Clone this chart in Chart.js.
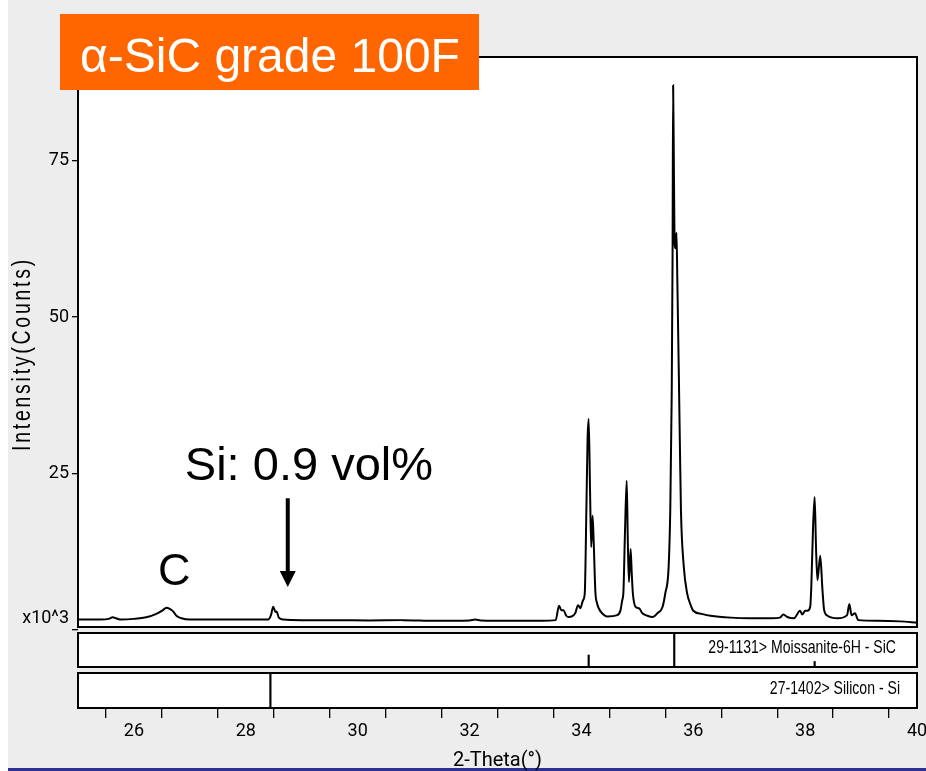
<!DOCTYPE html>
<html>
<head>
<meta charset="utf-8">
<script src="https://cdn.jsdelivr.net/npm/chart.js@4/dist/chart.umd.min.js"></script>
<style>
  html, body { margin: 0; padding: 0; background: #ffffff; }
  #wrap { width: 926px; height: 771px; }
</style>
</head>
<body>
<div id="wrap"><canvas id="c" width="926" height="771"></canvas></div>
<script>
// ---------- data ----------
// 2-Theta (degrees)
const twoTheta = [
  25.00, 25.40, 25.55, 25.62, 25.68, 25.75, 26.00, 26.22, 26.40, 26.52,
  26.58, 26.64, 26.70, 26.76, 26.85, 27.00, 27.50, 28.00, 28.40, 28.45,
  28.49, 28.53, 28.55, 28.59, 28.67, 29.00, 29.60, 30.20, 30.80, 31.40,
  32.00, 32.10, 32.20, 32.80, 33.30, 33.54, 33.60, 33.64, 33.68, 33.73,
  33.77, 33.89, 33.94, 33.98, 34.03, 34.06, 34.09, 34.11, 34.13, 34.155,
  34.175, 34.20, 34.22, 34.25, 34.28, 34.31, 34.37, 34.46, 34.64, 34.70,
  34.73, 34.75, 34.78, 34.81, 34.83, 34.85, 34.88, 34.90, 34.92, 34.97,
  35.03, 35.09, 35.18, 35.27, 35.36, 35.45, 35.50, 35.56, 35.59, 35.615,
  35.63, 35.64, 35.655, 35.668, 35.685, 35.70, 35.715, 35.74, 35.76, 35.78,
  35.83, 35.89, 35.95, 36.00, 36.15, 36.31, 36.67, 37.00, 37.40, 37.55,
  37.61, 37.68, 37.80, 37.91, 37.95, 38.00, 38.04, 38.09, 38.11, 38.14,
  38.17, 38.195, 38.22, 38.27, 38.31, 38.34, 38.40, 38.58, 38.75, 38.79,
  38.83, 38.89, 38.95, 39.30, 39.70, 40.00
];
// Intensity (x10^3 counts)
const intensity = [
  1.6, 1.6, 1.7, 1.95, 1.8, 1.6, 1.7, 1.95, 2.5, 3.1,
  3.5, 3.3, 2.9, 2.2, 1.8, 1.6, 1.6, 1.6, 1.6, 2.3,
  3.65, 2.8, 2.9, 1.9, 1.6, 1.5, 1.5, 1.45, 1.5, 1.4,
  1.45, 1.6, 1.45, 1.4, 1.4, 1.5, 3.8, 3.1, 3.1, 2.2,
  2.0, 2.6, 3.9, 3.4, 4.7, 5.8, 19.7, 30.4, 33.7, 22.0,
  13.2, 18.2, 14.0, 6.0, 4.2, 3.4, 2.6, 2.1, 2.3, 3.1,
  4.7, 5.8, 15.9, 23.8, 14.0, 7.6, 12.9, 9.0, 5.8, 3.6,
  3.4, 2.6, 2.2, 2.0, 2.6, 3.6, 5.8, 10.1, 19.7, 38.0,
  60.0, 87.1, 72.0, 61.5, 61.0, 63.5, 56.0, 42.0, 30.0, 19.0,
  10.1, 5.8, 4.0, 3.0, 2.5, 2.2, 1.9, 1.8, 1.8, 1.9,
  2.4, 2.0, 1.8, 3.0, 2.4, 3.0, 3.0, 3.6, 6.8, 15.9,
  21.2, 13.0, 7.9, 11.8, 6.3, 3.1, 2.2, 1.8, 2.3, 4.1,
  2.3, 2.6, 1.5, 1.4, 1.3, 1.1
];
const yTickValues = [0, 25, 50, 75];
const xTickValues = [25, 26, 27, 28, 29, 30, 31, 32, 33, 34, 35, 36, 37, 38, 39, 40];
const xLabelledTicks = [26, 28, 30, 32, 34, 36, 38, 40];

// reference patterns (relative intensity, %)
const moissaniteAngles = [34.13, 35.66, 38.17];
const moissaniteRel = [35, 100, 16];
const siliconAngles = [28.44];
const siliconRel = [100];
const refLabels = ['29-1131> Moissanite-6H - SiC', '27-1402> Silicon - Si'];

// texts
const chartTitle = 'α-SiC grade 100F';
const xTitle = '2-Theta(°)';
const yTitle = 'Intensity(Counts)';
const unitLabel = 'x10^3';
const annoTexts = ['Si: 0.9 vol%', 'C'];
const annoX = [26.91, 26.43];
const annoY = [23.9, 7.1];
const arrowX = 28.75, arrowFrom = 21.0, arrowTo = 6.8;

// ---------- styling ----------
const TICKFAMILY = 'Roboto, "Liberation Sans", sans-serif';
const SANS = '"Liberation Sans", Arial, Helvetica, sans-serif';
const PANEL_GAP = 6;

function narrowText(ctx, text, x, y, size, squeeze, align, spacing) {
  ctx.save();
  ctx.translate(x, y);
  ctx.scale(squeeze, 1);
  ctx.font = size + 'px ' + SANS;
  if (spacing) { try { ctx.letterSpacing = spacing + 'px'; } catch (e) {} }
  ctx.textAlign = align;
  ctx.textBaseline = 'middle';
  ctx.fillText(text, 0, 0);
  ctx.restore();
}

const bgPlugin = {
  id: 'bg',
  beforeDraw(chart) {
    const ctx = chart.ctx, W = chart.width, H = chart.height;
    ctx.save();
    ctx.fillStyle = '#ffffff';
    ctx.fillRect(0, 0, W, H);
    ctx.fillStyle = '#ededed';
    ctx.fillRect(8, 0, W - 8, 768);
    ctx.fillStyle = '#2e3192';
    ctx.fillRect(8, 768, W - 8, 3);
    const a = chart.chartArea, s = chart.scales;
    ctx.fillStyle = '#ffffff';
    ctx.fillRect(a.left, s.y.top, a.right - a.left, s.y.bottom - s.y.top);
    ctx.fillRect(a.left, s.ref1.top + PANEL_GAP, a.right - a.left, s.ref1.bottom - s.ref1.top - PANEL_GAP);
    ctx.fillRect(a.left, s.ref2.top + PANEL_GAP, a.right - a.left, s.ref2.bottom - s.ref2.top - PANEL_GAP);
    ctx.restore();
  },
  afterDraw(chart) {
    const ctx = chart.ctx, a = chart.chartArea, s = chart.scales;
    ctx.save();
    // frames
    ctx.strokeStyle = '#000';
    ctx.lineWidth = 2;
    ctx.strokeRect(a.left, s.y.top, a.right - a.left, s.y.bottom - s.y.top);
    ctx.strokeRect(a.left, s.ref1.top + PANEL_GAP, a.right - a.left, s.ref1.bottom - s.ref1.top - PANEL_GAP);
    ctx.strokeRect(a.left, s.ref2.top + PANEL_GAP, a.right - a.left, s.ref2.bottom - s.ref2.top - PANEL_GAP);

    // reference labels
    ctx.fillStyle = '#000';
    const r1 = (s.ref1.top + PANEL_GAP + s.ref1.bottom) / 2 - 2;
    const r2 = (s.ref2.top + PANEL_GAP + s.ref2.bottom) / 2 - 2;
    narrowText(ctx, refLabels[0], a.right - 21, r1, 19, 0.74, 'right');
    narrowText(ctx, refLabels[1], a.right - 17, r2, 19, 0.74, 'right');

    // annotations in data coordinates
    ctx.font = '47px ' + SANS;
    ctx.textAlign = 'left';
    ctx.textBaseline = 'alphabetic';
    ctx.fillText(annoTexts[0], s.x.getPixelForValue(annoX[0]), s.y.getPixelForValue(annoY[0]));
    ctx.font = '45px ' + SANS;
    ctx.fillText(annoTexts[1], s.x.getPixelForValue(annoX[1]), s.y.getPixelForValue(annoY[1]));
    // arrow
    const ax = s.x.getPixelForValue(arrowX);
    const ay0 = s.y.getPixelForValue(arrowFrom);
    const ay1 = s.y.getPixelForValue(arrowTo);
    ctx.lineWidth = 4;
    ctx.beginPath();
    ctx.moveTo(ax, ay0);
    ctx.lineTo(ax, ay1 - 14);
    ctx.stroke();
    ctx.beginPath();
    ctx.moveTo(ax - 8, ay1 - 16);
    ctx.lineTo(ax + 8, ay1 - 16);
    ctx.lineTo(ax, ay1);
    ctx.closePath();
    ctx.fill();

    // y title (rotated, condensed, letter-spaced)
    ctx.save();
    ctx.translate(23, 354);
    ctx.rotate(-Math.PI / 2);
    narrowText(ctx, yTitle, 0, 0, 25, 0.78, 'center', 3.5);
    ctx.restore();

    // title box
    ctx.fillStyle = '#ff6600';
    ctx.fillRect(60, 14, 419, 76);
    ctx.fillStyle = '#ffffff';
    ctx.font = '48px ' + SANS;
    ctx.textAlign = 'left';
    ctx.textBaseline = 'alphabetic';
    ctx.fillText(chartTitle, 80, 72);
    ctx.restore();
  }
};

const tickFont = { family: TICKFAMILY, size: 18 };

new Chart(document.getElementById('c'), {
  type: 'line',
  data: {
    datasets: [
      {
        type: 'line',
        label: 'XRD',
        data: twoTheta.map((x, i) => ({ x: x, y: intensity[i] })),
        xAxisID: 'x', yAxisID: 'y',
        borderColor: '#000000', borderWidth: 2,
        pointRadius: 0, cubicInterpolationMode: 'monotone', fill: false
      },
      {
        type: 'bar',
        label: refLabels[0],
        data: moissaniteAngles.map((x, i) => ({ x: x, y: moissaniteRel[i] })),
        xAxisID: 'x', yAxisID: 'ref1',
        backgroundColor: '#000000', barThickness: 1.5, grouped: false
      },
      {
        type: 'bar',
        label: refLabels[1],
        data: siliconAngles.map((x, i) => ({ x: x, y: siliconRel[i] })),
        xAxisID: 'x', yAxisID: 'ref2',
        backgroundColor: '#000000', barThickness: 1.5, grouped: false
      }
    ]
  },
  options: {
    responsive: false,
    animation: false,
    devicePixelRatio: 1,
    layout: { padding: { top: 57, right: 9, left: 0, bottom: 0 } },
    plugins: { legend: { display: false }, tooltip: { enabled: false } },
    scales: {
      x: {
        type: 'linear', position: 'bottom', min: 25, max: 40, offset: false,
        afterBuildTicks: s => { s.ticks = xTickValues.map(v => ({ value: v })); },
        ticks: {
          autoSkip: false, maxRotation: 0, font: tickFont, color: '#000', padding: 3,
          callback: v => xLabelledTicks.includes(v) ? String(v) : ''
        },
        grid: { drawOnChartArea: false, drawTicks: true, tickLength: 10, color: '#000', lineWidth: 1.3 },
        border: { display: false },
        title: { display: true, text: xTitle, color: '#000', font: { family: TICKFAMILY, size: 20, lineHeight: 1 }, padding: { top: 0, bottom: 0 } },
        afterFit: s => { s.height = 63; s.paddingLeft = 0; s.paddingRight = 0; }
      },
      ref2: {
        type: 'linear', position: 'left', stack: 'panels', stackWeight: 41, weight: 1,
        min: 0, max: 117,
        ticks: { display: false }, grid: { display: false }, border: { display: false },
        afterFit: s => { s.width = 78; }
      },
      ref1: {
        type: 'linear', position: 'left', stack: 'panels', stackWeight: 40, weight: 2,
        min: 0, max: 117,
        ticks: { display: false }, grid: { display: false }, border: { display: false },
        afterFit: s => { s.width = 78; }
      },
      y: {
        type: 'linear', position: 'left', stack: 'panels', stackWeight: 570, weight: 3,
        min: 0.4, max: 91.6,
        afterBuildTicks: s => { s.ticks = yTickValues.map(v => ({ value: v })); },
        ticks: {
          font: tickFont, color: '#000', padding: 3,
          callback: v => v === 0 ? [unitLabel, ''] : String(v)
        },
        grid: { drawOnChartArea: false, drawTicks: true, tickLength: 6, color: '#000', lineWidth: 1.3 },
        border: { display: false },
        afterFit: s => { s.width = 78; }
      }
    }
  },
  plugins: [bgPlugin]
});
</script>
</body>
</html>
